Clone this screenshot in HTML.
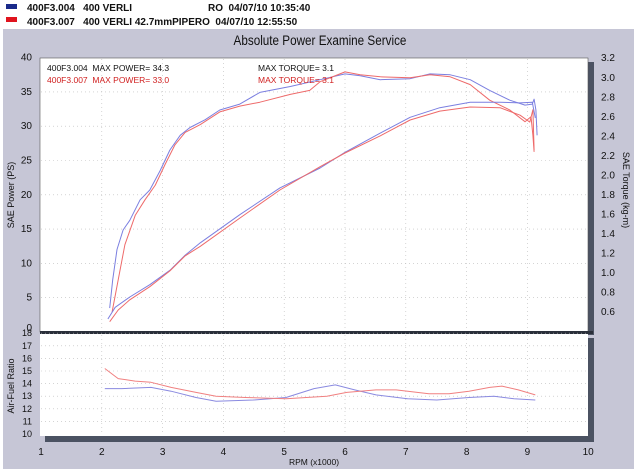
<!DOCTYPE html>
<html><head><meta charset="utf-8"><style>
body{margin:0;width:640px;height:471px;overflow:hidden;background:#fff;font-family:"Liberation Sans",sans-serif}
svg{display:block}
text{font-family:"Liberation Sans",sans-serif}
</style></head><body>
<svg id="chart" width="640" height="471" viewBox="0 0 640 471">
<rect x="0" y="0" width="640" height="28" fill="#fff"/>
<rect x="6" y="4" width="11" height="5" fill="#1a2a8a"/>
<rect x="6" y="17" width="11" height="5" fill="#e0141e"/>
<text x="27" y="11" font-size="10" font-weight="bold" fill="#111">400F3.004&#160;&#160;&#160;400 VERLI<tspan x="208">RO&#160;&#160;04/07/10 10:35:40</tspan></text>
<text x="27" y="25" font-size="10" font-weight="bold" fill="#111">400F3.007&#160;&#160;&#160;400 VERLI 42.7mmPIPERO&#160;&#160;04/07/10 12:55:50</text>
<rect x="3" y="29" width="631" height="440" fill="#c6c6d6"/>
<text x="320" y="43" font-size="13" text-anchor="middle" fill="#111" transform="translate(320,0) scale(0.9,1.05) translate(-320,0)">Absolute Power Examine Service</text>
<rect x="45" y="62" width="549" height="273" fill="#4b5262"/>
<rect x="40" y="58" width="548" height="274" fill="#fff" stroke="#555" stroke-width="0.6"/>
<rect x="45" y="338" width="549" height="104" fill="#4b5262"/>
<rect x="40" y="334" width="548" height="102" fill="#fff"/>
<rect x="40" y="331" width="553" height="3" fill="#2a2f3a"/>
<g id="grid"></g>
<g id="axes"></g>
<g id="series"></g>
<text x="47" y="71" font-size="8.5" fill="#111">400F3.004&#160;&#160;MAX POWER= 34.3</text>
<text x="47" y="83" font-size="8.5" fill="#d02020">400F3.007&#160;&#160;MAX POWER= 33.0</text>
<text x="258" y="71" font-size="8.5" fill="#111">MAX TORQUE= 3.1</text>
<text x="258" y="83" font-size="8.5" fill="#d02020">MAX TORQUE= 3.1</text>
<text x="14" y="195" font-size="9" text-anchor="middle" fill="#111" transform="rotate(-90 14 195)">SAE Power  (PS)</text>
<text x="623" y="190" font-size="9" text-anchor="middle" fill="#111" transform="rotate(90 623 190)">SAE Torque  (kg-m)</text>
<text x="14" y="386" font-size="9" text-anchor="middle" fill="#111" transform="rotate(-90 14 386)">Air-Fuel Ratio</text>
<text x="314" y="465" font-size="8.5" text-anchor="middle" fill="#111">RPM (x1000)</text>
</svg>
<script>
const rpmTicks=[1,2,3,4,5,6,7,8,9,10];
const powerTicks=[0,5,10,15,20,25,30,35,40];
const torqueTicks=["0.6","0.8","1.0","1.2","1.4","1.6","1.8","2.0","2.2","2.4","2.6","2.8","3.0","3.2"];
const afrTicks=[10,11,12,13,14,15,16,17,18];
const torqueRpmBlue=[2.13,2.18,2.25,2.35,2.46,2.63,2.79,2.96,3.12,3.29,3.45,3.70,3.94,4.27,4.60,5.10,5.59,6.00,6.25,6.58,7.07,7.40,7.73,8.06,8.38,8.71,8.96,9.08,9.11,9.14,9.16];
const torqueBlue=[0.64,0.93,1.24,1.44,1.54,1.75,1.85,2.05,2.26,2.41,2.49,2.57,2.67,2.73,2.85,2.91,2.98,3.04,3.02,2.98,2.99,3.04,3.03,2.98,2.87,2.77,2.72,2.73,2.78,2.67,2.41];
const torqueRpmRed=[2.17,2.27,2.38,2.55,2.71,2.88,3.04,3.20,3.37,3.62,3.94,4.27,4.60,5.10,5.42,5.59,6.00,6.25,6.58,7.07,7.40,7.73,8.06,8.38,8.71,8.96,9.06,9.09,9.11];
const torqueRed=[0.60,0.93,1.29,1.59,1.75,1.90,2.11,2.31,2.44,2.52,2.65,2.71,2.75,2.83,2.87,2.96,3.06,3.03,3.01,3.00,3.03,3.01,2.93,2.77,2.67,2.55,2.60,2.41,2.24];
const powerRpmBlue=[2.10,2.22,2.46,2.79,3.12,3.37,3.62,4.27,4.93,5.59,6.00,6.58,7.07,7.56,8.06,8.55,8.88,9.08,9.13];
const powerBlue=[1.9,3.6,5.1,6.9,9.0,11.2,13.0,17.1,21.0,23.9,26.2,29.0,31.3,32.7,33.5,33.5,33.4,33.5,31.2];
const powerRpmRed=[2.13,2.27,2.46,2.79,3.12,3.37,3.62,4.27,4.93,5.59,6.00,6.58,7.07,7.56,8.06,8.55,8.88,9.04,9.09,9.11];
const powerRed=[1.5,3.2,4.7,6.6,8.9,11.1,12.5,16.6,20.7,24.1,26.1,28.6,30.9,32.2,32.8,32.7,31.6,30.6,32.4,26.5];
const afrRpmRed=[2.05,2.27,2.55,2.81,3.14,3.55,3.88,4.36,5.03,5.70,6.03,6.51,6.84,7.38,7.71,8.04,8.38,8.58,8.85,9.13];
const afrRed=[15.2,14.4,14.2,14.1,13.7,13.3,13.0,12.9,12.8,13.0,13.3,13.5,13.5,13.2,13.2,13.4,13.7,13.8,13.5,13.1];
const afrRpmBlue=[2.05,2.33,2.81,3.14,3.55,3.88,4.49,5.03,5.49,5.84,6.16,6.51,7.03,7.51,8.04,8.45,8.78,9.13];
const afrBlue=[13.6,13.6,13.7,13.4,12.9,12.6,12.7,12.9,13.6,13.9,13.5,13.1,12.8,12.7,12.9,13.0,12.8,12.7];

const NS="http://www.w3.org/2000/svg";
const xS=r=>41+(r-1)*60.8;
const pS=p=>332-p*6.86;
const tS=t=>312-(t-0.6)*97.6;
const aS=a=>434-(a-10)*12.6;
function mk(tag,attrs,parent){const e=document.createElementNS(NS,tag);for(const k in attrs)e.setAttribute(k,attrs[k]);parent.appendChild(e);return e;}
const grid=document.getElementById('grid'),axes=document.getElementById('axes'),series=document.getElementById('series');
rpmTicks.forEach(r=>{
  if(r>1&&r<10){
    let l=mk('line',{x1:xS(r),x2:xS(r),y1:59,y2:331,stroke:'#bbb','stroke-width':0.6,'stroke-dasharray':'1 3'},grid);
    
    
    let l2=mk('line',{x1:xS(r),x2:xS(r),y1:335,y2:435,stroke:'#bbb','stroke-width':0.6,'stroke-dasharray':'1 3'},grid);
    
    
  }
  let t=mk('text',{x:xS(r),y:455,'font-size':10,'text-anchor':'middle',fill:'#111'},axes);t.textContent=r;
  
  
});
powerTicks.forEach(p=>{
  if(p>0&&p<40){let l=mk('line',{x1:41,x2:587,y1:pS(p),y2:pS(p),stroke:'#bbb','stroke-width':0.6,'stroke-dasharray':'1 3'},grid);
  
  }
  let t=mk('text',{x:32,y:pS(p)+(p===0?-1:3),'font-size':10,'text-anchor':'end',fill:'#111'},axes);t.textContent=p;
  
  
});
torqueTicks.forEach(s=>{
  let t=mk('text',{x:601,y:tS(parseFloat(s))+3,'font-size':10,fill:'#111'},axes);t.textContent=s;
  
  
});
afrTicks.forEach(a=>{
  if(a>10){let l=mk('line',{x1:41,x2:587,y1:aS(a),y2:aS(a),stroke:'#bbb','stroke-width':0.6,'stroke-dasharray':'1 3'},grid);
  
  }
  let t=mk('text',{x:32,y:aS(a)+3,'font-size':9,'text-anchor':'end',fill:'#111'},axes);t.textContent=a;
  
  
});
function line(xs,ys,ys2,color,name){
  const d=xs.map((r,i)=>(i?'L':'M')+xS(r).toFixed(1)+','+ys2(ys[i]).toFixed(1)).join(' ');
  const p=mk('path',{d:d,fill:'none',stroke:color,'stroke-width':1,'stroke-linejoin':'round'},series);
  
  
}
line(torqueRpmBlue,torqueBlue,tS,'#7b7fe0','torque-line-blue');
line(torqueRpmRed,torqueRed,tS,'#ee6a6a','torque-line-red');
line(powerRpmBlue,powerBlue,pS,'#7b7fe0','power-line-blue');
line(powerRpmRed,powerRed,pS,'#ee6a6a','power-line-red');
line(afrRpmBlue,afrBlue,aS,'#8a8ae0','afr-line-blue');
line(afrRpmRed,afrRed,aS,'#f08080','afr-line-red');
</script>
</body></html>
